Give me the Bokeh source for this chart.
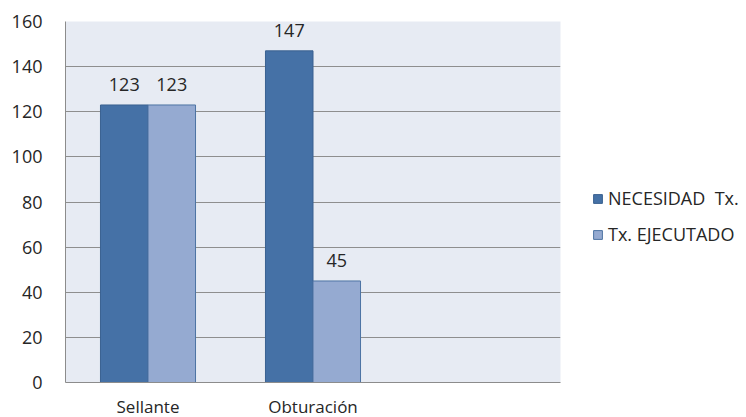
from bokeh.plotting import figure
from bokeh.models import (ColumnDataSource, FactorRange, Range1d, Legend, LegendItem,
                          FixedTicker)
from bokeh.transform import dodge
from bokeh.core.properties import value
from bokeh.embed import file_html
from bokeh.resources import INLINE

# Tratamientos y cantidades
categories = ["Sellante", "Obturación", " "]
necesidad = [123, 147, 0]
ejecutado = [123, 45, 0]
series_names = ["NECESIDAD  Tx.", "Tx. EJECUTADO"]
y_ticks = [0, 20, 40, 60, 80, 100, 120, 140, 160]

FONT = "Open Sans"
TXT = "#262626"
DARK = "#4571a6"
DARK_EDGE = "#3a6190"
LIGHT = "#95aad1"
LIGHT_EDGE = "#4d73a3"

src = ColumnDataSource(data=dict(
    cat=categories[:2],
    nec=necesidad[:2],
    eje=ejecutado[:2],
    nec_lbl=[str(v) for v in necesidad[:2]],
    eje_lbl=[str(v) for v in ejecutado[:2]],
))

p = figure(
    x_range=FactorRange(*categories),
    y_range=Range1d(0, 160),
    frame_width=495, frame_height=361,
    min_border_left=65, min_border_right=186,
    min_border_top=21, min_border_bottom=35,
    output_backend="svg", toolbar_location=None,
    background_fill_color="#e7ebf3", border_fill_color="white",
)
p.outline_line_color = None

bw = 0.288
r1 = p.vbar(x=dodge("cat", -bw / 2, range=p.x_range), top="nec", width=bw, source=src,
            fill_color=DARK, line_color=DARK_EDGE, line_width=1)
r2 = p.vbar(x=dodge("cat", bw / 2, range=p.x_range), top="eje", width=bw, source=src,
            fill_color=LIGHT, line_color=LIGHT_EDGE, line_width=1)

# Valores sobre las barras
for col, lbl, off in (("nec", "nec_lbl", -bw / 2), ("eje", "eje_lbl", bw / 2)):
    p.text(x=dodge("cat", off, range=p.x_range), y=col, text=lbl, source=src,
           text_align="center", text_baseline="bottom", y_offset=-14,
           text_font=value(FONT), text_font_size="18px", text_color=TXT)

# Ejes
p.yaxis.ticker = FixedTicker(ticks=y_ticks)
p.yaxis.major_tick_line_color = None
p.yaxis.minor_tick_line_color = None
p.yaxis.axis_line_color = "#8c8c8c"
p.yaxis.major_label_standoff = 17
p.yaxis.major_label_text_font = FONT
p.yaxis.major_label_text_font_size = "18px"
p.yaxis.major_label_text_color = TXT

p.xaxis.major_tick_line_color = None
p.xaxis.axis_line_color = "#8c8c8c"
p.xaxis.major_label_standoff = 6
p.xaxis.major_label_text_font = FONT
p.xaxis.major_label_text_font_size = "17px"
p.xaxis.major_label_text_color = TXT

p.xgrid.grid_line_color = None
p.ygrid.grid_line_color = "#8e8e8e"
p.ygrid.grid_line_width = 1

legend = Legend(
    items=[LegendItem(label=series_names[0], renderers=[r1]),
           LegendItem(label=series_names[1], renderers=[r2])],
    location=(32, 136),
    orientation="vertical",
    background_fill_alpha=0, border_line_color=None,
    glyph_width=11, glyph_height=11, label_standoff=5,
    label_height=20, spacing=12, padding=0, margin=0,
    label_text_font=FONT, label_text_font_size="18px", label_text_color=TXT,
)
p.add_layout(legend, "right")

open("out.html", "w").write(file_html(p, INLINE))
